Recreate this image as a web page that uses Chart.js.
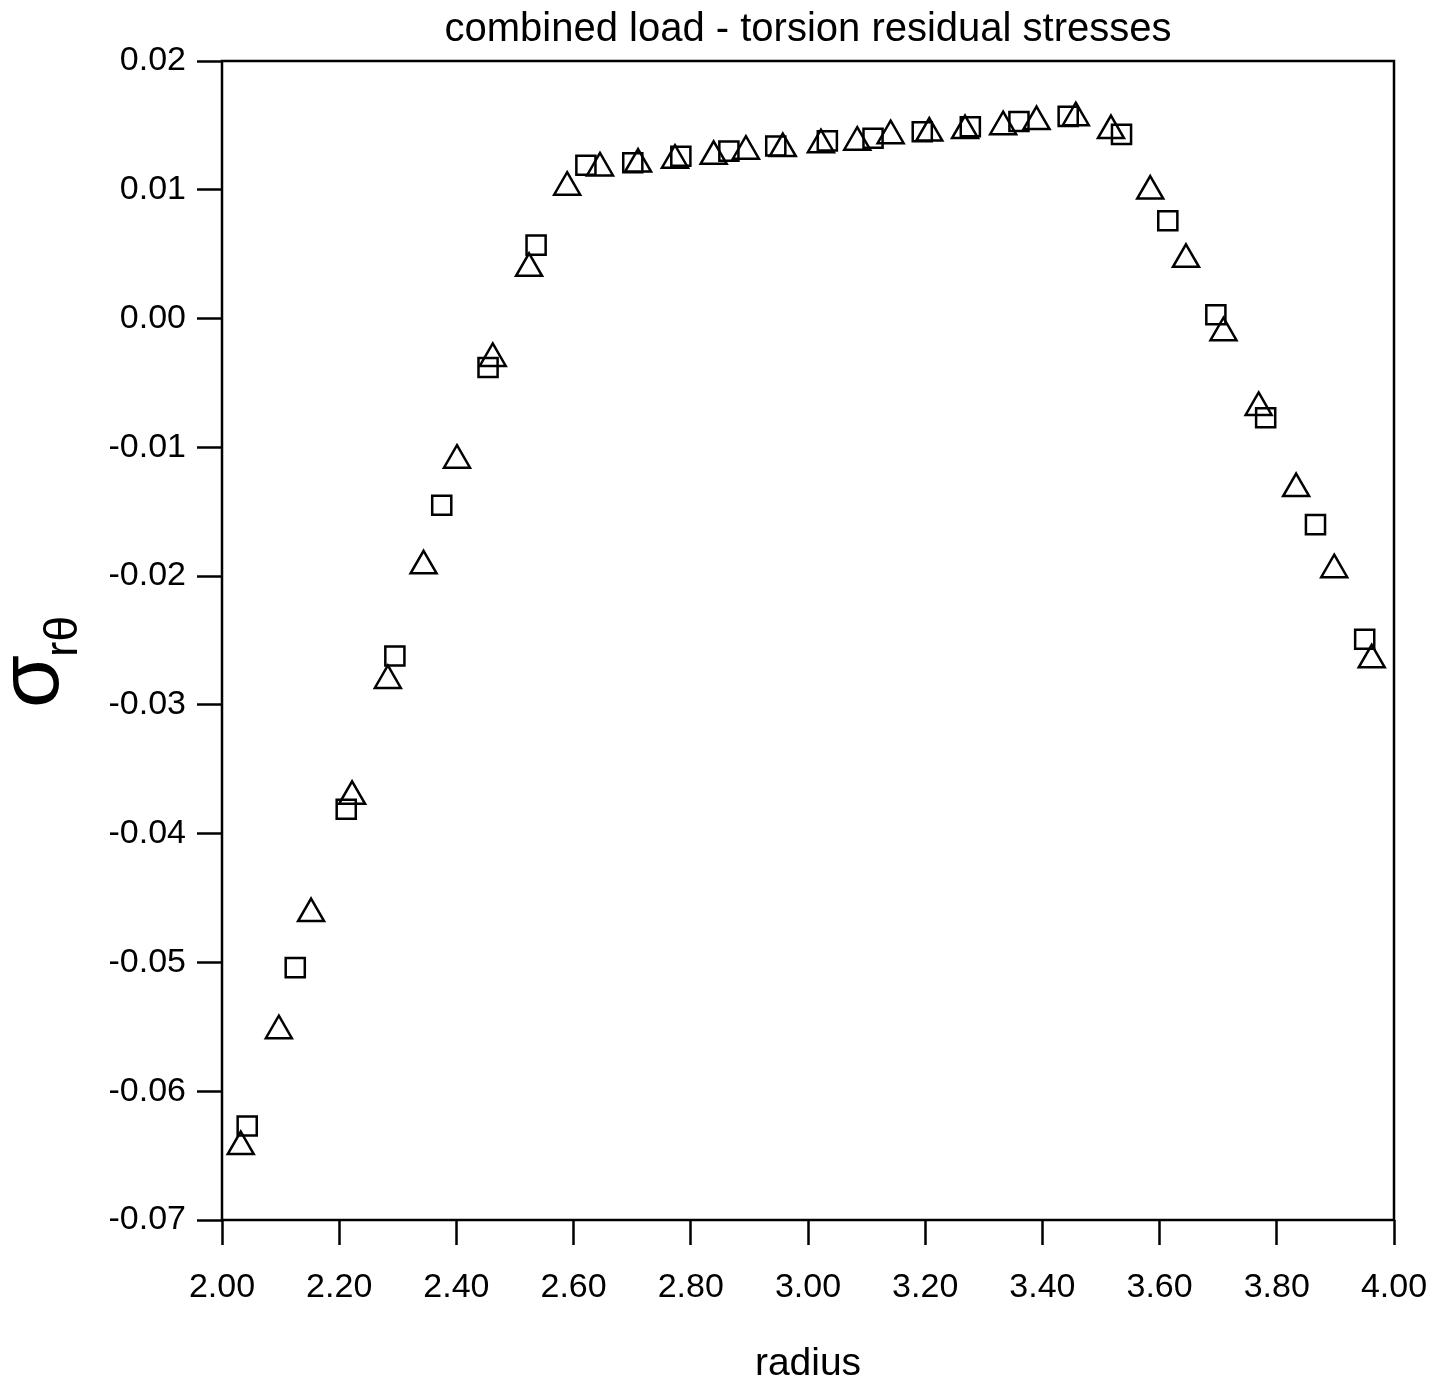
<!DOCTYPE html>
<html>
<head>
<meta charset="utf-8">
<title>combined load - torsion residual stresses</title>
<script src="https://cdn.jsdelivr.net/npm/chart.js@4/dist/chart.umd.min.js"></script>
<style>
  html, body { margin: 0; padding: 0; background: #fff; }
  #wrap { position: relative; width: 1434px; height: 1388px; }
</style>
</head>
<body>
<div id="wrap">
  <canvas id="stressChart" width="1434" height="1388"></canvas>
</div>
<script>
// Shear stress data, two runs (triangles and squares)
const triRadius = [2.032, 2.097, 2.152, 2.222, 2.283, 2.344, 2.401, 2.462, 2.524, 2.589,
                   2.645, 2.710, 2.773, 2.839, 2.894, 2.957, 3.022, 3.084, 3.141, 3.207,
                   3.268, 3.333, 3.390, 3.457, 3.517, 3.584, 3.645, 3.709, 3.769, 3.833,
                   3.898, 3.962];
const triStress = [-0.0643, -0.0553, -0.0462, -0.0371, -0.0281, -0.0192, -0.0110, -0.0031, 0.0039, 0.0102,
                   0.0117, 0.0120, 0.0123, 0.0126, 0.0130, 0.0132, 0.0135, 0.0137, 0.0142, 0.0144,
                   0.0146, 0.0149, 0.0153, 0.0156, 0.0146, 0.0099, 0.0046, -0.0011, -0.0069, -0.0132,
                   -0.0195, -0.0265];

const sqRadius = [2.043, 2.125, 2.212, 2.295, 2.375, 2.454, 2.536, 2.621, 2.701, 2.783,
                  2.865, 2.945, 3.033, 3.111, 3.195, 3.277, 3.360, 3.444, 3.535, 3.614,
                  3.696, 3.781, 3.866, 3.950];
const sqStress = [-0.0627, -0.0504, -0.0381, -0.0262, -0.0145, -0.0038, 0.0057, 0.0119, 0.0121, 0.0126,
                  0.0130, 0.0134, 0.0138, 0.0140, 0.0145, 0.0149, 0.0153, 0.0157, 0.0143, 0.0076,
                  0.0003, -0.0077, -0.0160, -0.0249];

// Axis ticks
const xTicks = [2.0, 2.2, 2.4, 2.6, 2.8, 3.0, 3.2, 3.4, 3.6, 3.8, 4.0];
const yTicks = [0.02, 0.01, 0.00, -0.01, -0.02, -0.03, -0.04, -0.05, -0.06, -0.07];

const FONT = "'Liberation Sans', Arial, Helvetica, sans-serif";

function toPoints(xs, ys) {
    return xs.map((x, i) => ({ x: x, y: ys[i] }));
}

function fmt(v) {
    if (Math.abs(v) < 1e-9) return '0.00';
    return v.toFixed(2);
}

// Full box around the plot area
const frame = {
    id: 'frame',
    beforeDatasetsDraw(chart) {
        const a = chart.chartArea;
        const ctx = chart.ctx;
        ctx.save();
        ctx.strokeStyle = '#000';
        ctx.lineWidth = 2.5;
        ctx.strokeRect(a.left, a.top, a.right - a.left, a.bottom - a.top);
        ctx.restore();
    }
};

// Rotated sigma_r-theta label on the left
const yLabel = {
    id: 'yLabel',
    afterDraw(chart) {
        const ctx = chart.ctx;
        ctx.save();
        ctx.translate(58, 708);
        ctx.rotate(-Math.PI / 2);
        ctx.fillStyle = '#000';
        ctx.textBaseline = 'alphabetic';
        ctx.textAlign = 'left';
        ctx.font = '86px ' + FONT;
        ctx.fillText('σ', 0, 0);
        const w = ctx.measureText('σ').width;
        ctx.font = '46px ' + FONT;
        ctx.fillText('rθ', w - 2, 19);
        ctx.restore();
    }
};

const ctx = document.getElementById('stressChart').getContext('2d');
new Chart(ctx, {
    type: 'scatter',
    data: {
        datasets: [{
            label: 'run A',
            data: toPoints(sqRadius, sqStress),
            pointStyle: 'rect',
            pointRadius: 13.5,
            pointHoverRadius: 13.5,
            borderColor: '#000',
            backgroundColor: 'rgba(0,0,0,0)',
            borderWidth: 2.5,
            pointBorderWidth: 2.5,
            showLine: false
        }, {
            label: 'run B',
            data: toPoints(triRadius, triStress),
            pointStyle: 'triangle',
            pointRadius: 15,
            pointHoverRadius: 15,
            borderColor: '#000',
            backgroundColor: 'rgba(0,0,0,0)',
            borderWidth: 2.5,
            pointBorderWidth: 2.5,
            showLine: false
        }]
    },
    options: {
        responsive: false,
        animation: false,
        layout: { padding: { left: 0, right: 40, top: 0, bottom: 0 } },
        plugins: {
            legend: { display: false },
            tooltip: { enabled: false },
            title: {
                display: true,
                fullSize: false,
                text: 'combined load - torsion residual stresses',
                color: '#000',
                font: { family: FONT, size: 40, weight: 'normal' },
                padding: { top: 6, bottom: 7 }
            }
        },
        scales: {
            x: {
                type: 'linear',
                min: 2.0,
                max: 4.0,
                afterBuildTicks: s => { s.ticks = xTicks.map(v => ({ value: v })); },
                afterFit: s => { s.height = 168; s.paddingLeft = 0; s.paddingRight = 0; },
                border: { display: false },
                grid: {
                    drawOnChartArea: false,
                    drawTicks: true,
                    tickLength: 25,
                    tickWidth: 2.5,
                    tickColor: '#000'
                },
                ticks: {
                    color: '#000',
                    padding: 22,
                    maxRotation: 0,
                    autoSkip: false,
                    font: { family: FONT, size: 34 },
                    callback: v => fmt(v)
                },
                title: {
                    display: true,
                    text: 'radius',
                    color: '#000',
                    font: { family: FONT, size: 39 },
                    padding: { top: 0, bottom: 0 }
                }
            },
            y: {
                type: 'linear',
                min: -0.07,
                max: 0.02,
                afterBuildTicks: s => { s.ticks = yTicks.map(v => ({ value: v })); },
                afterFit: s => { s.width = 222; s.paddingTop = 0; s.paddingBottom = 0; },
                border: { display: false },
                grid: {
                    drawOnChartArea: false,
                    drawTicks: true,
                    tickLength: 25,
                    tickWidth: 2.5,
                    tickColor: '#000'
                },
                ticks: {
                    color: '#000',
                    padding: 11,
                    autoSkip: false,
                    font: { family: FONT, size: 34 },
                    callback: v => fmt(v)
                }
            }
        }
    },
    plugins: [frame, yLabel]
});
</script>
</body>
</html>
